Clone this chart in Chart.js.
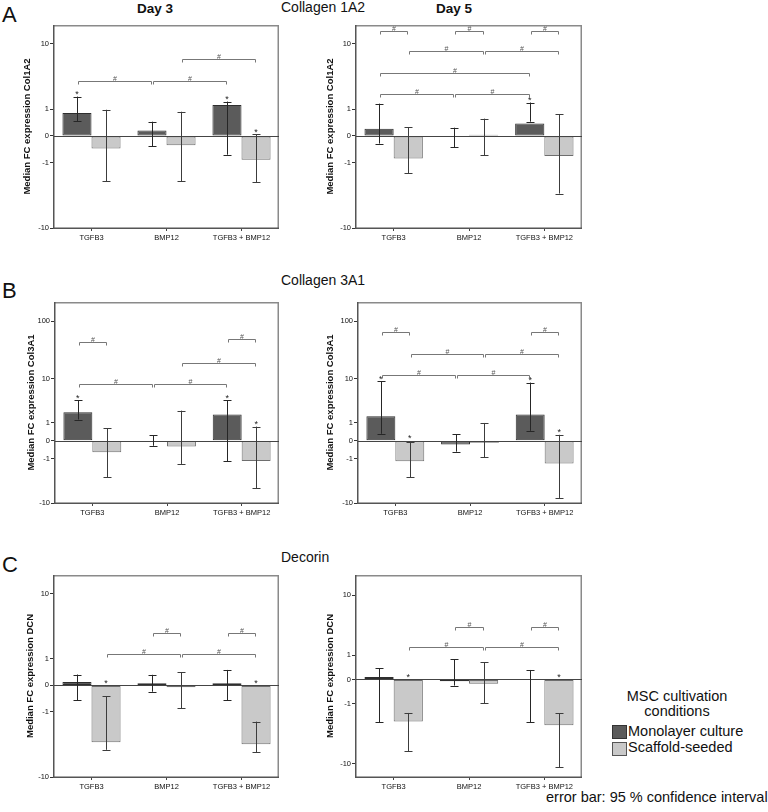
<!DOCTYPE html>
<html>
<head>
<meta charset="utf-8">
<script src="https://cdn.jsdelivr.net/npm/chart.js@4.4.1/dist/chart.umd.min.js"></script>
<style>
    body { margin: 0; background: #fff; font-family: 'Liberation Sans', Arial, sans-serif; }
    #fig { position: relative; width: 768px; height: 812px; overflow: hidden; background: #fff; }
    #fig canvas { position: absolute; }
    .t { position: absolute; white-space: nowrap; color: #111; line-height: 1; }
    .key { position: absolute; width: 13px; height: 12px; border: 1px solid #333; }
</style>
</head>
<body>
<div id="fig">
    <div class="t" style="left:2px;top:4px;font-size:22px">A</div>
    <div class="t" style="left:2px;top:280px;font-size:22px">B</div>
    <div class="t" style="left:2px;top:554px;font-size:22px">C</div>

    <div class="t" style="left:155px;top:2px;font-size:13.5px;font-weight:bold;transform:translateX(-50%)">Day 3</div>
    <div class="t" style="left:454px;top:2px;font-size:13.5px;font-weight:bold;transform:translateX(-50%)">Day 5</div>

    <div class="t" style="left:281px;top:0px;font-size:14px">Collagen 1A2</div>
    <div class="t" style="left:281px;top:273px;font-size:14px">Collagen 3A1</div>
    <div class="t" style="left:281px;top:550px;font-size:14px">Decorin</div>

    <div class="t" style="left:677px;top:689px;font-size:14.5px;transform:translateX(-50%)">MSC cultivation</div>
    <div class="t" style="left:677px;top:704px;font-size:14.5px;transform:translateX(-50%)">conditions</div>
    <div class="key" style="left:612px;top:725px;background:#5b5b5b"></div>
    <div class="t" style="left:628px;top:724px;font-size:14.5px">Monolayer culture</div>
    <div class="key" style="left:612px;top:742px;background:#c9c9c9;border-color:#555"></div>
    <div class="t" style="left:628px;top:740px;font-size:14.5px">Scaffold-seeded</div>

    <div class="t" style="left:546px;top:790px;font-size:14.5px">error bar: 95 % confidence interval</div>
</div>

<script>
// ===========================
// DATA
// ===========================

const groups = ['TGFB3', 'BMP12', 'TGFB3 + BMP12'];
const seriesNames = ['Monolayer culture', 'Scaffold-seeded'];

const ticksCollagen1 = [-10, -1, 0, 1, 10];
const ticksCollagen3 = [-10, -1, 0, 1, 10, 100];
const ticksDecorin = [-10, -1, 0, 1, 10];

// Collagen 1A2, day 3
const col1Day3Mono = [0.82, 0.15, 1.24];
const col1Day3MonoLo = [0.46, -0.30, -0.63];
const col1Day3MonoHi = [1.79, 0.45, 1.45];
const col1Day3Scaf = [-0.39, -0.27, -0.86];
const col1Day3ScafLo = [-2.27, -2.27, -2.33];
const col1Day3ScafHi = [0.98, 0.88, 0.04];
const col1Day3Stars = [0, 4, 5];
const col1Day3Pairs = [[0, 2, 3.2], [2, 4, 3.2], [3, 5, 6.4]];

// Collagen 1A2, day 5
const col1Day5Mono = [0.21, -0.03, 0.38];
const col1Day5MonoLo = [-0.22, -0.34, 0.45];
const col1Day5MonoHi = [1.32, 0.24, 1.39];
const col1Day5Scaf = [-0.80, 0.035, -0.69];
const col1Day5ScafLo = [-1.65, -0.65, -3.49];
const col1Day5ScafHi = [0.25, 0.57, 0.75];
const col1Day5Stars = [4];
const col1Day5Pairs = [[0, 1, 14.5], [2, 3, 14.5], [4, 5, 14.5], [1, 3, 8.1], [3, 5, 8.1], [0, 4, 4.1], [0, 2, 1.97], [2, 4, 1.97]];

// Collagen 3A1, day 3
const col3Day3Mono = [2.0, -0.05, 1.77];
const col3Day3MonoLo = [1.27, -0.21, -1.2];
const col3Day3MonoHi = [3.8, 0.23, 3.74];
const col3Day3Scaf = [-0.56, -0.24, -1.17];
const col3Day3ScafLo = [-3.06, -1.44, -5.2];
const col3Day3ScafHi = [0.61, 2.2, 0.73];
const col3Day3Stars = [0, 4, 5];
const col3Day3Pairs = [[0, 1, 45], [4, 5, 49], [3, 5, 19], [0, 2, 7.8], [2, 4, 7.8]];

// Collagen 3A1, day 5
const col3Day5Mono = [1.57, -0.15, 1.77];
const col3Day5MonoLo = [0.31, -0.52, 0.47];
const col3Day5MonoHi = [8.9, 0.28, 8.44];
const col3Day5Scaf = [-1.2, -0.08, -1.41];
const col3Day5ScafLo = [-3.06, -0.89, -8.06];
const col3Day5ScafHi = [-0.06, 0.99, 0.26];
const col3Day5Stars = [0, 1, 4, 5];
const col3Day5Pairs = [[0, 1, 65], [4, 5, 65], [1, 3, 27.6], [3, 5, 27.6], [0, 2, 11.7], [2, 4, 11.7]];

// Decorin, day 3
const dcnDay3Mono = [0.09, 0.06, 0.06];
const dcnDay3MonoLo = [-0.48, -0.18, -0.47];
const dcnDay3MonoHi = [0.33, 0.32, 0.5];
const dcnDay3Scaf = [-3.44, -0.05, -3.68];
const dcnDay3ScafLo = [-4.4, -0.81, -4.78];
const dcnDay3ScafHi = [-0.32, 0.41, -1.58];
const dcnDay3Stars = [1, 5];
const dcnDay3Pairs = [[2, 3, 2.9], [4, 5, 2.9], [1, 3, 1.26], [3, 5, 1.26]];

// Decorin, day 5
const dcnDay5Mono = [0.07, -0.05, -0.01];
const dcnDay5MonoLo = [-2.37, -0.19, -2.37];
const dcnDay5MonoHi = [0.38, 0.79, 0.31];
const dcnDay5Scaf = [-2.31, -0.13, -2.67];
const dcnDay5ScafLo = [-6.65, -0.96, -11.2];
const dcnDay5ScafHi = [-1.59, 0.64, -1.61];
const dcnDay5Stars = [1, 5];
const dcnDay5Pairs = [[2, 3, 3.5], [4, 5, 3.5], [1, 3, 1.49], [3, 5, 1.49]];

// ===========================
// SIGNED LOG(1+|x|) SCALE
// ===========================

const FONT = "'Liberation Sans', Arial, sans-serif";
Chart.defaults.font.family = FONT;

function tf(v) {
    return Math.sign(v) * Math.log10(1 + Math.abs(v));
}

class Log1pScale extends Chart.LinearScale {
    static id = 'log1p';
    static defaults = Chart.LinearScale.defaults;

    getPixelForValue(value) {
        const a = tf(this.min);
        const b = tf(this.max);
        return this.getPixelForDecimal((tf(value) - a) / (b - a));
    }

    getValueForPixel(pixel) {
        const a = tf(this.min);
        const b = tf(this.max);
        const t = a + this.getDecimalForPixel(pixel) * (b - a);
        return Math.sign(t) * (Math.pow(10, Math.abs(t)) - 1);
    }
}
Chart.register(Log1pScale);

// ===========================
// PANELS
// ===========================

const panels = [
    { L: 54, R: 279, T: 25, B: 228, titleX: 28, min: -10, max: 17, ticks: ticksCollagen1,
      title: 'Median FC expression Col1A2',
      mono: col1Day3Mono, monoLo: col1Day3MonoLo, monoHi: col1Day3MonoHi,
      scaf: col1Day3Scaf, scafLo: col1Day3ScafLo, scafHi: col1Day3ScafHi,
      stars: col1Day3Stars, pairs: col1Day3Pairs },
    { L: 356, R: 582, T: 25, B: 228, titleX: 330.5, min: -10, max: 17, ticks: ticksCollagen1,
      title: 'Median FC expression Col1A2',
      mono: col1Day5Mono, monoLo: col1Day5MonoLo, monoHi: col1Day5MonoHi,
      scaf: col1Day5Scaf, scafLo: col1Day5ScafLo, scafHi: col1Day5ScafHi,
      stars: col1Day5Stars, pairs: col1Day5Pairs },
    { L: 55, R: 279, T: 302, B: 503, titleX: 32, min: -10, max: 210, ticks: ticksCollagen3,
      title: 'Median FC expression Col3A1',
      mono: col3Day3Mono, monoLo: col3Day3MonoLo, monoHi: col3Day3MonoHi,
      scaf: col3Day3Scaf, scafLo: col3Day3ScafLo, scafHi: col3Day3ScafHi,
      stars: col3Day3Stars, pairs: col3Day3Pairs },
    { L: 358, R: 582, T: 302, B: 503, titleX: 331, min: -10, max: 210, ticks: ticksCollagen3,
      title: 'Median FC expression Col3A1',
      mono: col3Day5Mono, monoLo: col3Day5MonoLo, monoHi: col3Day5MonoHi,
      scaf: col3Day5Scaf, scafLo: col3Day5ScafLo, scafHi: col3Day5ScafHi,
      stars: col3Day5Stars, pairs: col3Day5Pairs },
    { L: 54, R: 279, T: 575, B: 777, titleX: 30.7, min: -10, max: 17, ticks: ticksDecorin,
      title: 'Median FC expression DCN',
      mono: dcnDay3Mono, monoLo: dcnDay3MonoLo, monoHi: dcnDay3MonoHi,
      scaf: dcnDay3Scaf, scafLo: dcnDay3ScafLo, scafHi: dcnDay3ScafHi,
      stars: dcnDay3Stars, pairs: dcnDay3Pairs },
    { L: 356, R: 582, T: 575, B: 777, titleX: 330.5, min: -15, max: 18.5, ticks: ticksDecorin,
      title: 'Median FC expression DCN',
      mono: dcnDay5Mono, monoLo: dcnDay5MonoLo, monoHi: dcnDay5MonoHi,
      scaf: dcnDay5Scaf, scafLo: dcnDay5ScafLo, scafHi: dcnDay5ScafHi,
      stars: dcnDay5Stars, pairs: dcnDay5Pairs }
];

const PAD_TOP = 8;
const PAD_RIGHT = 6;
const X_AXIS_H = 22;

// error bars, asterisks, "#" brackets, frame and zero line
function marksPlugin(p) {
    return {
        id: 'marks',
        afterDraw(chart) {
            const { ctx, chartArea: a } = chart;
            const y = chart.scales.y;
            const bars = [];
            for (let g = 0; g < groups.length; g++) {
                bars.push(chart.getDatasetMeta(0).data[g].x);
                bars.push(chart.getDatasetMeta(1).data[g].x);
            }
            const lo = [], hi = [];
            for (let g = 0; g < groups.length; g++) {
                lo.push(p.monoLo[g], p.scafLo[g]);
                hi.push(p.monoHi[g], p.scafHi[g]);
            }

            ctx.save();
            // frame: light top/right, darker left/bottom axes
            ctx.lineWidth = 1.5;
            ctx.strokeStyle = '#8a8a8a';
            ctx.beginPath();
            ctx.moveTo(a.left, a.top + 0.75);
            ctx.lineTo(a.right - 0.75, a.top + 0.75);
            ctx.lineTo(a.right - 0.75, a.bottom);
            ctx.stroke();
            ctx.strokeStyle = '#555';
            ctx.beginPath();
            ctx.moveTo(a.left - 0.25, a.top);
            ctx.lineTo(a.left - 0.25, a.bottom + 0.25);
            ctx.lineTo(a.right, a.bottom + 0.25);
            ctx.stroke();

            // zero line
            const y0 = Math.round(y.getPixelForValue(0)) + 0.5;
            ctx.lineWidth = 1;
            ctx.strokeStyle = '#444';
            ctx.beginPath();
            ctx.moveTo(a.left, y0);
            ctx.lineTo(a.right, y0);
            ctx.stroke();

            // error bars
            bars.forEach((x, i) => {
                const yl = y.getPixelForValue(lo[i]);
                const yh = y.getPixelForValue(hi[i]);
                const xc = Math.round(x) + 0.5;
                ctx.strokeStyle = i % 2 === 0 ? '#262626' : '#3c3c3c';
                ctx.beginPath();
                ctx.moveTo(xc, yl);
                ctx.lineTo(xc, yh);
                ctx.moveTo(xc - 4, Math.round(yl) + 0.5);
                ctx.lineTo(xc + 4, Math.round(yl) + 0.5);
                ctx.moveTo(xc - 4, Math.round(yh) + 0.5);
                ctx.lineTo(xc + 4, Math.round(yh) + 0.5);
                ctx.stroke();
            });

            // asterisks
            ctx.fillStyle = '#222';
            ctx.font = '9px ' + FONT;
            ctx.textAlign = 'center';
            ctx.textBaseline = 'alphabetic';
            p.stars.forEach(i => {
                const top = y.getPixelForValue(Math.max(hi[i], 0));
                ctx.fillText('*', bars[i], top + 0.5);
            });

            // significance brackets
            ctx.strokeStyle = '#777';
            ctx.fillStyle = '#555';
            ctx.font = '7px ' + FONT;
            p.pairs.forEach(([i, j, level]) => {
                const yy = Math.round(y.getPixelForValue(level)) + 0.5;
                const x1 = Math.round(bars[i]) + 1.5;
                const x2 = Math.round(bars[j]) - 0.5;
                ctx.beginPath();
                ctx.moveTo(x1, yy + 3);
                ctx.lineTo(x1, yy);
                ctx.lineTo(x2, yy);
                ctx.lineTo(x2, yy + 3);
                ctx.stroke();
                ctx.fillText('#', (x1 + x2) / 2, yy - 1);
            });
            ctx.restore();
        }
    };
}

// ===========================
// BUILD CHARTS
// ===========================

const fig = document.getElementById('fig');

panels.forEach(p => {
    const left = Math.round(p.titleX - 9.7);
    const top = p.T - PAD_TOP;
    const canvas = document.createElement('canvas');
    canvas.width = p.R + PAD_RIGHT - left;
    canvas.height = p.B - p.T + PAD_TOP + X_AXIS_H;
    canvas.style.left = left + 'px';
    canvas.style.top = top + 'px';
    fig.appendChild(canvas);

    new Chart(canvas, {
        type: 'bar',
        data: {
            labels: groups,
            datasets: [
                {
                    label: seriesNames[0],
                    data: p.mono,
                    backgroundColor: '#5b5b5b',
                    borderColor: '#2e2e2e',
                    borderWidth: 1,
                    borderSkipped: false,
                    categoryPercentage: 0.775,
                    barPercentage: 1
                },
                {
                    label: seriesNames[1],
                    data: p.scaf,
                    backgroundColor: '#c9c9c9',
                    borderColor: '#6e6e6e',
                    borderWidth: 1,
                    borderSkipped: false,
                    categoryPercentage: 0.775,
                    barPercentage: 1
                }
            ]
        },
        options: {
            responsive: false,
            animation: false,
            devicePixelRatio: 1,
            layout: { padding: { top: PAD_TOP, right: PAD_RIGHT, left: 0, bottom: 0 } },
            plugins: {
                legend: { display: false },
                tooltip: { enabled: false }
            },
            scales: {
                x: {
                    offset: true,
                    grid: { display: true, offset: false, drawOnChartArea: false, drawTicks: true, tickLength: 3, color: '#444' },
                    border: { display: false },
                    ticks: { color: '#111', font: { size: 7.5 }, padding: 2, maxRotation: 0, autoSkip: false },
                    afterFit: s => { s.height = X_AXIS_H; }
                },
                y: {
                    type: 'log1p',
                    min: p.min,
                    max: p.max,
                    bounds: 'data',
                    afterBuildTicks: s => { s.ticks = p.ticks.map(v => ({ value: v })); },
                    grid: { display: true, drawOnChartArea: false, drawTicks: true, tickLength: 4, color: '#333' },
                    border: { display: false },
                    ticks: { color: '#111', font: { size: 7.5 }, padding: 1, callback: v => String(v) },
                    title: {
                        display: true,
                        text: p.title,
                        color: '#111',
                        font: { size: 9.5, weight: 'bold' },
                        padding: { top: 4, bottom: 0 }
                    },
                    afterFit: s => { s.width = p.L - left; }
                }
            }
        },
        plugins: [marksPlugin(p)]
    });
});
</script>
</body>
</html>
